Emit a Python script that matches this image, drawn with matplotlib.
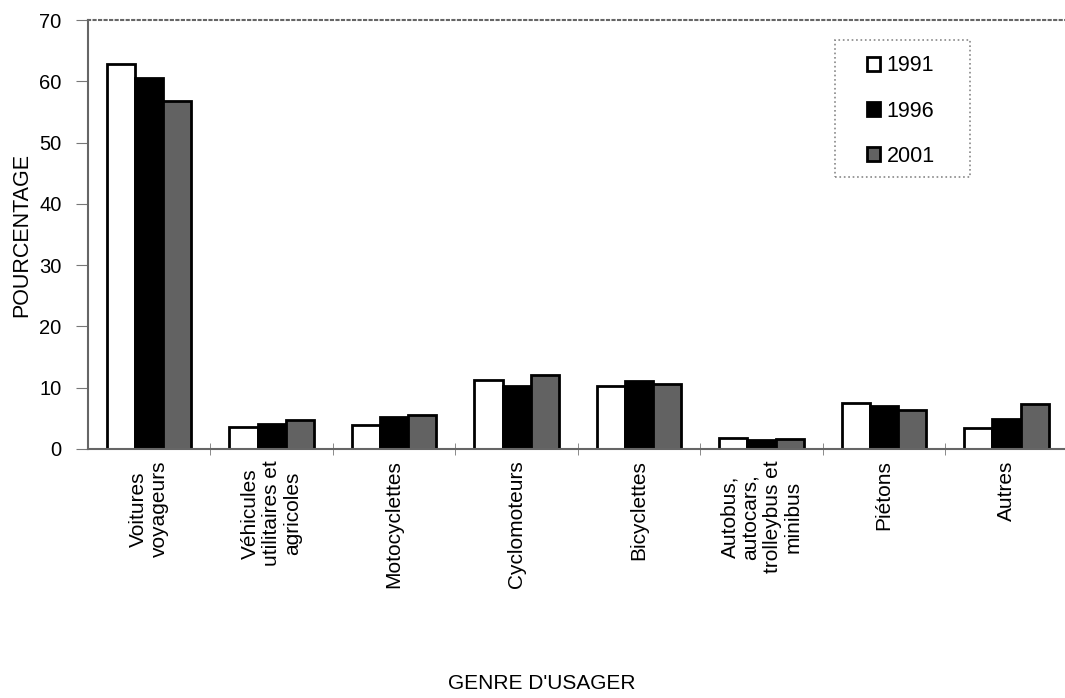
import matplotlib
matplotlib.use('Agg')
import matplotlib.pyplot as plt
from matplotlib.patches import Rectangle
import numpy as np

plt.rcParams['font.family'] = ['Liberation Sans', 'DejaVu Sans']

categories = ['Voitures\nvoyageurs', 'Véhicules\nutilitaires et\nagricoles', 'Motocyclettes',
              'Cyclomoteurs', 'Bicyclettes', 'Autobus,\nautocars,\ntrolleybus et\nminibus',
              'Piétons', 'Autres']
years = ['1991', '1996', '2001']
v1991 = [62.8, 3.6, 3.9, 11.3, 10.3, 1.7, 7.5, 3.4]
v1996 = [60.5, 4.1, 5.2, 10.3, 11.1, 1.5, 7.0, 4.9]
v2001 = [56.8, 4.7, 5.5, 12.1, 10.6, 1.6, 6.4, 7.3]

fig = plt.figure(figsize=(10.65, 6.98), dpi=100)
ax = fig.add_axes([0.0826, 0.357, 0.92, 0.614])

x = np.arange(len(categories))
w = 0.23
colors = ['white', 'black', '#626262']
for i, (vals, c) in enumerate(zip([v1991, v1996, v2001], colors)):
    ax.bar(x + (i - 1) * w, vals, w, color=c, edgecolor='black', linewidth=2, label=years[i])

ax.set_xlim(-0.5, len(categories) - 0.5)
ax.set_ylim(0, 70)
ax.set_yticks(range(0, 71, 10))
ax.tick_params(axis='y', labelsize=14.5, direction='out', length=9, width=0.8, color='#777', pad=10)
ax.set_xticks(x)
ax.set_xticklabels(categories, rotation=90, fontsize=15, ha='center', va='top', linespacing=1.15)
ax.tick_params(axis='x', length=0, pad=8.5)
ax.set_xticks(x[:-1] + 0.5, minor=True)
ax.tick_params(axis='x', which='minor', direction='inout', length=8, color='#777')

for s in ['left', 'bottom', 'top']:
    ax.spines[s].set_color('#666')
    ax.spines[s].set_linewidth(1.5)
ax.spines['top'].set_linestyle(':')
ax.spines['right'].set_visible(False)

ax.set_ylabel('POURCENTAGE', fontsize=15.5)
ax.yaxis.set_label_coords(-0.057, 0.5)
fig.text(0.509, 0.013, "GENRE D'USAGER", ha='center', fontsize=15)

# legende
leg = ax.legend(loc='upper left', bbox_to_anchor=(0.778, 0.958), fontsize=15.5, frameon=False,
                handlelength=0.6, handleheight=0.6, labelspacing=1.12, borderpad=0.3,
                handletextpad=0.3)
ax.add_patch(Rectangle((0.7625, 0.634), 0.138, 0.319, transform=ax.transAxes, fill=False,
                       edgecolor='#888', linestyle=':', linewidth=1.2, clip_on=False))

fig.savefig('out.png', dpi=100)
